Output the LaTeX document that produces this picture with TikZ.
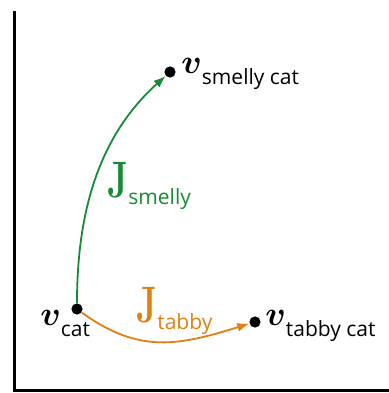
\documentclass[tikz,border=0pt]{standalone}
\usepackage{amsmath,amssymb}
\usepackage{graphicx}
\usepackage{fontspec}
\setsansfont{Open Sans}
\usepackage{tikz}
\usetikzlibrary{arrows.meta,positioning}
\definecolor{jgreen}{RGB}{22,138,52}
\definecolor{jorange}{RGB}{222,128,18}
\newcommand{\vlab}[1]{\scalebox{1.7}{$\boldsymbol{v}$}\raisebox{-5.5pt}{\fontsize{10.5}{12}\selectfont\sffamily #1}}
\newcommand{\jlab}[1]{\scalebox{0.95}[1.35]{\fontsize{19}{21}\selectfont\bfseries J}\raisebox{-3.5pt}{\fontsize{10.5}{12}\selectfont\sffamily #1}}
\tikzset{
  pt/.style={circle, fill=black, inner sep=0pt, minimum size=5.6pt},
  lab/.style={anchor=base west, inner sep=0pt},
  axis/.style={line width=1.5pt, line cap=rect},
  arr/.style={-{Latex[length=6pt,width=4.5pt]}, line width=0.9pt}
}
\begin{document}
\begin{tikzpicture}[x=0.5pt, y=0.5pt]
\useasboundingbox (0,0) rectangle (388,393);
% axes
\coordinate (top) at (15,381);
\coordinate (orig) at (15,3);
\coordinate (right) at (390,3);
\draw[axis] (top) -- (orig) -- (right);

\node[pt] (cat) at (77,84) {};
\node[pt] (smelly) at (170,321) {};
\node[pt] (tabby) at (255,71) {};

\node[lab] (catlab) at (40,68) {\vlab{cat}};
\node[lab] (smellylab) at (181,320) {\vlab{smelly cat}};
\node[lab] (tabbylab) at (265,68) {\vlab{tabby cat}};

\draw[arr, jgreen] (cat) to[out=90, in=222, looseness=0.95] (smelly);
\draw[arr, jorange] (cat) to[out=-36, in=197, looseness=1.1] (tabby);

\node[lab, text=jgreen] (jsmelly) at (107,196) {\jlab{smelly}};
\node[lab, text=jorange] (jtabby) at (136,71) {\jlab{tabby}};
\end{tikzpicture}
\end{document}
